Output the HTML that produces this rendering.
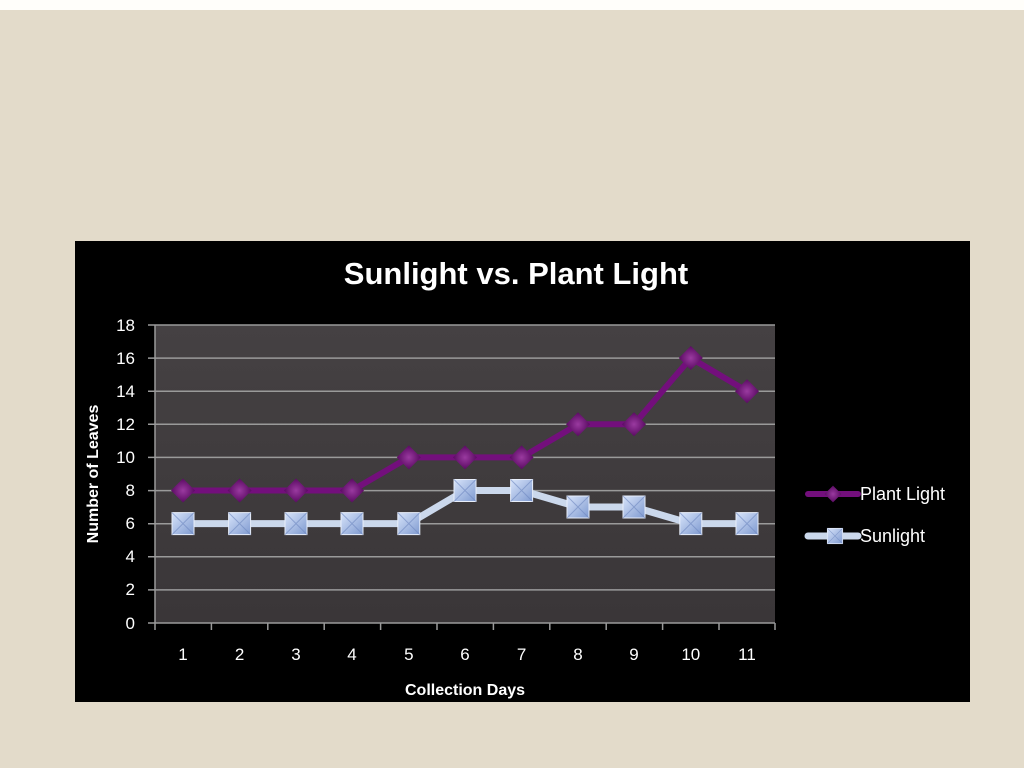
<!DOCTYPE html>
<html><head><meta charset="utf-8"><style>
html,body{margin:0;padding:0;width:1024px;height:768px;overflow:hidden;background:#e3dbca;}
</style></head><body>
<svg width="1024" height="768" xmlns="http://www.w3.org/2000/svg" font-family="Liberation Sans, DejaVu Sans, sans-serif">
<defs>
<linearGradient id="pa" x1="0" y1="0" x2="0" y2="1"><stop offset="0" stop-color="#454143"/><stop offset="1" stop-color="#3a3638"/></linearGradient>
<linearGradient id="sq" x1="0" y1="0" x2="1" y2="1"><stop offset="0" stop-color="#d8e4fa"/><stop offset="1" stop-color="#7f9ad0"/></linearGradient>
<radialGradient id="dm"><stop offset="0" stop-color="#9a3aa0"/><stop offset="1" stop-color="#5a0a62"/></radialGradient>
<g id="S"><rect x="-11" y="-11" width="22" height="22" fill="url(#sq)" stroke="#e8eefa" stroke-width="1"/><path d="M-11 -11L11 11M11 -11L-11 11" stroke="#6f88c0" stroke-width="1" opacity="0.6"/></g>
<g id="D"><path d="M0 -12L12 0L0 12L-12 0Z" fill="url(#dm)"/></g>
</defs>
<rect x="0" y="0" width="1024" height="10" fill="#fffefa"/>
<rect x="75" y="241" width="895" height="461" fill="#000"/>
<text x="516" y="284" text-anchor="middle" fill="#fff" font-size="31" font-weight="bold">Sunlight vs. Plant Light</text>
<rect x="155" y="325" width="620" height="298" fill="url(#pa)"/>
<g stroke="#9a9a9a" stroke-width="1.5">
<line x1="148" y1="325" x2="775" y2="325"/><line x1="148" y1="358.1" x2="775" y2="358.1"/><line x1="148" y1="391.2" x2="775" y2="391.2"/><line x1="148" y1="424.3" x2="775" y2="424.3"/><line x1="148" y1="457.4" x2="775" y2="457.4"/><line x1="148" y1="490.6" x2="775" y2="490.6"/><line x1="148" y1="523.7" x2="775" y2="523.7"/><line x1="148" y1="556.8" x2="775" y2="556.8"/><line x1="148" y1="589.9" x2="775" y2="589.9"/><line x1="148" y1="623" x2="775" y2="623"/>
<line x1="155" y1="325" x2="155" y2="630"/>
<line x1="211.4" y1="623" x2="211.4" y2="630"/><line x1="267.8" y1="623" x2="267.8" y2="630"/><line x1="324.2" y1="623" x2="324.2" y2="630"/><line x1="380.6" y1="623" x2="380.6" y2="630"/><line x1="437" y1="623" x2="437" y2="630"/><line x1="493.4" y1="623" x2="493.4" y2="630"/><line x1="549.8" y1="623" x2="549.8" y2="630"/><line x1="606.2" y1="623" x2="606.2" y2="630"/><line x1="662.6" y1="623" x2="662.6" y2="630"/><line x1="719" y1="623" x2="719" y2="630"/><line x1="775" y1="623" x2="775" y2="630"/>
</g>
<g fill="#fff" font-size="17" text-anchor="end">
<text x="135" y="331">18</text><text x="135" y="364">16</text><text x="135" y="397">14</text><text x="135" y="430">12</text><text x="135" y="463">10</text><text x="135" y="496">8</text><text x="135" y="529">6</text><text x="135" y="562">4</text><text x="135" y="595">2</text><text x="135" y="629">0</text>
</g>
<g fill="#fff" font-size="17" text-anchor="middle">
<text x="183" y="660">1</text><text x="239.6" y="660">2</text><text x="296" y="660">3</text><text x="352" y="660">4</text><text x="408.8" y="660">5</text><text x="465" y="660">6</text><text x="521.6" y="660">7</text><text x="578" y="660">8</text><text x="634" y="660">9</text><text x="690.8" y="660">10</text><text x="747" y="660">11</text>
</g>
<text x="465" y="695" text-anchor="middle" fill="#fff" font-size="16" font-weight="bold">Collection Days</text>
<text transform="translate(98,474) rotate(-90)" text-anchor="middle" fill="#fff" font-size="16" font-weight="bold">Number of Leaves</text>
<polyline fill="none" stroke="#730f7c" stroke-width="6" stroke-linejoin="round" points="183,490.5 239.6,490.5 296,490.5 352,490.5 408.8,457.4 465,457.4 521.6,457.4 578,424.3 634,424.3 690.8,358 747,391.2"/>
<polyline fill="none" stroke="#cbd8ec" stroke-width="7" stroke-linejoin="round" points="183,523.6 239.6,523.6 296,523.6 352,523.6 408.8,523.6 465,490.5 521.6,490.5 578,507 634,507 690.8,523.6 747,523.6"/>
<use href="#D" x="183" y="490.5"/><use href="#D" x="239.6" y="490.5"/><use href="#D" x="296" y="490.5"/><use href="#D" x="352" y="490.5"/><use href="#D" x="408.8" y="457.4"/><use href="#D" x="465" y="457.4"/><use href="#D" x="521.6" y="457.4"/><use href="#D" x="578" y="424.3"/><use href="#D" x="634" y="424.3"/><use href="#D" x="690.8" y="358"/><use href="#D" x="747" y="391.2"/>
<use href="#S" x="183" y="523.6"/><use href="#S" x="239.6" y="523.6"/><use href="#S" x="296" y="523.6"/><use href="#S" x="352" y="523.6"/><use href="#S" x="408.8" y="523.6"/><use href="#S" x="465" y="490.5"/><use href="#S" x="521.6" y="490.5"/><use href="#S" x="578" y="507"/><use href="#S" x="634" y="507"/><use href="#S" x="690.8" y="523.6"/><use href="#S" x="747" y="523.6"/>
<line x1="808" y1="494" x2="858" y2="494" stroke="#730f7c" stroke-width="6" stroke-linecap="round"/>
<g transform="translate(833,494) scale(0.7)"><use href="#D"/></g>
<line x1="808" y1="536" x2="858" y2="536" stroke="#cbd8ec" stroke-width="7" stroke-linecap="round"/>
<g transform="translate(835,536) scale(0.7)"><use href="#S"/></g>
<text x="860" y="500" fill="#fff" font-size="18">Plant Light</text>
<text x="860" y="542" fill="#fff" font-size="18">Sunlight</text>
</svg>
</body></html>
